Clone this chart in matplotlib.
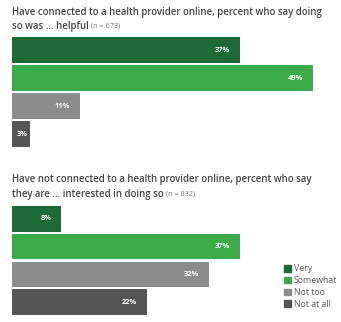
import matplotlib.pyplot as plt
from matplotlib.patches import Patch

# survey answers, percent
categories = ["Very", "Somewhat", "Not too", "Not at all"]
helpful = [37, 49, 11, 3]
interested = [8, 37, 32, 22]
colors = ["#1c6a36", "#3aab47", "#8c8c8c", "#555555"]

W, H = 341, 322
fig = plt.figure(figsize=(W / 100, H / 100), dpi=100)
plt.rcParams['font.family'] = ['Open Sans', 'DejaVu Sans']

px = 6.15  # pixels per percent
x0 = 12


def panel(top, bottom, values):
    ax = fig.add_axes([x0 / W, 1 - bottom / H, 1 - x0 / W, (bottom - top) / H])
    ax.barh(range(len(values)), values, height=0.91, color=colors)
    ax.set_xlim(0, (W - x0) / px)
    ax.set_ylim(len(values) - 0.5, -0.5)
    ax.axis('off')
    for i, v in enumerate(values):
        ax.text(max(v - 1.6, 2.6), i, f"{v}%", ha='right', va='center',
                color='white', fontsize=5.4, fontweight='bold')
    return ax


def title(y, line1, line2, n):
    fig.text(x0 / W, 1 - y / H, line1, fontsize=6.9, color='#444444',
             fontweight='semibold', va='center')
    t = fig.text(x0 / W, 1 - (y + 14) / H, line2, fontsize=6.9, color='#444444',
                 fontweight='semibold', va='center')
    fig.canvas.draw()
    bb = t.get_window_extent()
    fig.text(bb.x1 / W + 0.008, 1 - (y + 14) / H, f"(n = {n})", fontsize=5.2,
             color='#777777', va='center')


title(12, "Have connected to a health provider online, percent who say doing",
      "so was ... helpful", 673)
panel(36, 148, helpful)

title(180, "Have not connected to a health provider online, percent who say",
      "they are ... interested in doing so", 832)
panel(205, 316, interested)

handles = [Patch(color=c) for c in colors]
fig.legend(handles, categories, loc='upper left', bbox_to_anchor=(280 / W, 1 - 260 / H),
           frameon=False, fontsize=6.3, handlelength=0.7, handleheight=0.8,
           handletextpad=0.35, labelspacing=0.32, borderpad=0, labelcolor='#555555')

fig.savefig("out.png", dpi=100)
